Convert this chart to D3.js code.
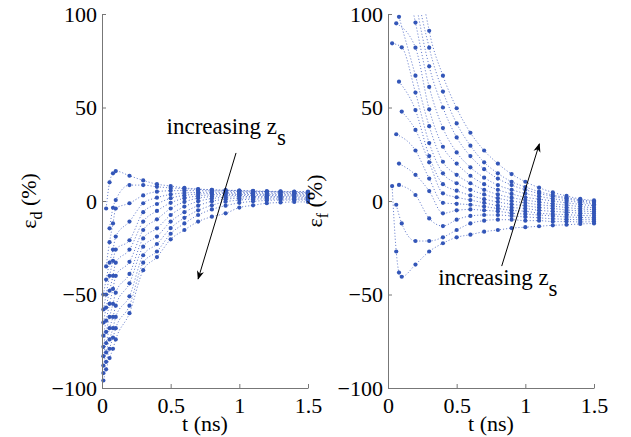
<!DOCTYPE html>
<html>
<head>
<meta charset="utf-8">
<script src="https://cdn.jsdelivr.net/npm/d3@7"></script>
<style>
  body { margin: 0; background: #fff; }
  svg { display: block; }
</style>
</head>
<body>
<svg id="chart" width="631" height="437"></svg>
<script>
// time samples (ns)
const tMain = [0.1, 0.2, 0.3, 0.4, 0.5, 0.6, 0.7, 0.8, 0.9, 1.0, 1.1, 1.2, 1.3, 1.4, 1.5];
const tEarlyD = [0.01, 0.03, 0.055, 0.08];
const tEarlyF = [0.03, 0.06, 0.08];

// eps_d (%) one row per source depth, top curve = shallowest
const epsD = [
  [null, -4, 10, 14.8, 16, 13.5, 11, 9, 8, 7, 6.4, 6, 5.8, 5.6, 5.4, 5.2, 5.1, 5, 5],
  [null, null, -14.6, -3.6, 0.5, 8.5, 8.5, 7.6, 7, 6.6, 6.2, 5.9, 5.7, 5.5, 5.3, 5.1, 5, 4.9, 4.8],
  [null, -35, -22, -12, -4, -1.2, 3, 5, 5.5, 5.6, 5.5, 5.4, 5.3, 5.2, 5.1, 5, 4.8, 4.6, 4.5],
  [-50, -42, -33, -26, -19, -11, -1.2, 1.8, 3.5, 4.3, 4.6, 4.7, 4.7, 4.6, 4.5, 4.4, 4.3, 4.1, 4],
  [-58, -50, -40, -32, -26, -21, -6, -1.6, 1.5, 3, 3.7, 4, 4.1, 4.1, 4, 3.9, 3.8, 3.7, 3.5],
  [-65, -57, -48, -40, -33, -26, -11, -5.3, -1, 1.5, 2.7, 3.3, 3.5, 3.5, 3.5, 3.4, 3.3, 3.2, 3],
  [-72, -64, -55, -47, -40, -32.5, -15.5, -9.8, -4, -0.5, 1.5, 2.4, 2.8, 3, 3, 2.9, 2.8, 2.7, 2.5],
  [-78, -70, -62, -55, -49, -39, -20, -14.6, -7.5, -3, -0.2, 1.3, 2, 2.3, 2.4, 2.4, 2.3, 2.2, 2],
  [-83, -76, -68, -62, -56, -44, -24.4, -19, -11, -6, -2.5, -0.2, 1, 1.5, 1.7, 1.8, 1.7, 1.6, 1.5],
  [-88, -81, -74, -68, -62, -51, -29, -23, -14.5, -9, -5, -2.3, -0.4, 0.5, 1, 1.1, 1.1, 1, 1],
  [-92, -86, -79, -73, -68, -56, -33, -27, -17.5, -12, -7.5, -4.5, -2.5, -1, -0.2, 0.3, 0.5, 0.5, 0.5],
  [-96, -90, -84, -79, -74, -60, -37, -30, -20.5, -15.5, -11, -8.4, -6.6, -3.5, -2.3, -1.2, -0.8, -0.5, -0.5]
];

// eps_f (%) one row per source depth, top curve = deepest
const epsF = [
  [null, null, null, 250, 140, 91, 67, 49.6, 36.5, 27, 20, 14.4, 10.3, 7.1, 4.6, 2.7, 1.1, 0.3],
  [null, null, null, 200, 120, 82, 58.5, 41.5, 29.6, 20.7, 14.8, 10.3, 7.5, 5, 3.2, 1.8, 0.6, -0.3],
  [null, null, null, 160, 108, 72, 50, 34, 24, 17, 12, 8.5, 6, 4, 2.5, 1.2, 0, -1],
  [null, null, null, 130, 95.4, 61, 39, 26, 18, 12.5, 8.5, 6, 4, 2.5, 1.2, 0.2, -0.8, -1.7],
  [null, 95, null, null, 82, 49, 29, 20, 13.5, 9, 6, 3.8, 2, 1, 0, -1, -1.8, -2.6],
  [null, null, 98.5, null, 67, 40, 21, 14, 9.5, 6, 3.5, 1.8, 0.5, -0.5, -1.5, -2.2, -3, -3.6],
  [84.3, null, null, 82.2, 58, 31, 14.8, 9.5, 6, 3.5, 1.5, 0, -1, -2, -2.7, -3.5, -4.2, -4.6],
  [null, null, 63.8, null, 48.6, 24, 9, 5.5, 3, 1, -0.5, -1.8, -2.5, -3.5, -4, -4.8, -5.3, -5.7],
  [null, null, null, 47.8, 38, 20.7, 4.1, 2, 0.5, -1, -2.5, -3.5, -4, -5, -5.5, -6, -6.5, -6.8],
  [null, 35.7, null, null, 27, 12, -1, -1.5, -2, -3, -4, -5, -5.5, -6.5, -7, -7.3, -7.7, -7.9],
  [null, null, 20, null, 14, 5.3, -6.6, -5, -4.5, -5, -5.5, -6.5, -7, -7.5, -8, -8.5, -8.8, -9],
  [null, null, 8.6, null, 3.2, -9.3, -13.4, -10, -8, -7.5, -7.5, -8, -8.5, -9, -9.5, -9.8, -10, -10],
  [null, -2, null, -12, -21.4, -21.4, -19.4, -15.5, -12, -10.5, -10, -10, -10.5, -10.5, -11, -11, -11.2, -11],
  [8, -27, -38.3, -40.5, -34, -27, -22.6, -19.4, -18, -16.4, -15.5, -14.5, -14, -13.5, -13, -12.7, -12.3, -12]
];

const xTicks = [0, 0.5, 1, 1.5];
const yTicks = [-100, -50, 0, 50, 100];

// annotation arrows [from, to] and label anchors, in data units
const arrowD = [[0.976, 25.7], [0.70, -41.7]];
const labelD = [0.47, 36];
const arrowF = [[0.828, -34.8], [1.102, 30.5]];
const labelF = [0.365, -45];

const font = '"Liberation Serif", "Times New Roman", serif';
const blue = '#3356b8';
const svg = d3.select('#chart');

const defs = svg.append('defs');
defs.append('marker')
  .attr('id', 'head')
  .attr('viewBox', '0 0 10 10')
  .attr('refX', 9).attr('refY', 5)
  .attr('markerWidth', 9).attr('markerHeight', 9)
  .attr('markerUnits', 'userSpaceOnUse')
  .attr('orient', 'auto')
  .append('path')
  .attr('d', 'M0,1 L10,5 L0,9 L3,5 Z')
  .attr('fill', '#000');

function drawPanel({ id, x0, times, curves, sub, arrow, label }) {
  const x = d3.scaleLinear().domain([0, 1.5]).range([x0, x0 + 206]);
  const y = d3.scaleLinear().domain([-100, 100]).range([388, 14]);

  defs.append('clipPath').attr('id', 'clip-' + id)
    .append('rect')
    .attr('x', x0).attr('y', 14)
    .attr('width', 206).attr('height', 374);
  defs.append('clipPath').attr('id', 'clipdot-' + id)
    .append('rect')
    .attr('x', x0 - 3).attr('y', 11)
    .attr('width', 212).attr('height', 380);

  const series = curves.map((row) =>
    row.map((v, i) => [times[i], v]).filter((d) => d[1] !== null));

  const line = d3.line()
    .x((d) => x(d[0]))
    .y((d) => y(d[1]))
    .curve(d3.curveMonotoneX);

  svg.append('g')
    .attr('clip-path', `url(#clip-${id})`)
    .selectAll('path')
    .data(series)
    .join('path')
    .attr('d', line)
    .attr('fill', 'none')
    .attr('stroke', '#5a74c8')
    .attr('stroke-width', 0.9)
    .attr('stroke-dasharray', '1.1 2');

  svg.append('g')
    .attr('clip-path', `url(#clipdot-${id})`)
    .selectAll('g')
    .data(series)
    .join('g')
    .selectAll('circle')
    .data((d) => d.filter((p) => p[1] <= 101 && p[1] >= -101))
    .join('circle')
    .attr('cx', (d) => x(d[0]))
    .attr('cy', (d) => y(d[1]))
    .attr('r', 2.1)
    .attr('fill', blue);

  // axes, MATLAB style: ticks point inward, no box
  const ax = svg.append('g')
    .attr('transform', 'translate(0,388)')
    .call(d3.axisBottom(x).tickValues(xTicks).tickFormat((d) => String(d))
      .tickSizeInner(-4).tickSizeOuter(0).tickPadding(9));
  const ay = svg.append('g')
    .attr('transform', `translate(${x0},0)`)
    .call(d3.axisLeft(y).tickValues(yTicks)
      .tickSizeInner(-4).tickSizeOuter(0).tickPadding(5));
  [ax, ay].forEach((g) => {
    g.select('.domain').attr('stroke', '#777');
    g.selectAll('.tick line').attr('stroke', '#777');
    g.selectAll('.tick text')
      .attr('font-family', font).attr('font-size', 22).attr('fill', '#000');
  });

  svg.append('text')
    .attr('x', x0 + 103).attr('y', 431)
    .attr('text-anchor', 'middle')
    .attr('font-family', font).attr('font-size', 22)
    .text('t (ns)');

  const yl = svg.append('text')
    .attr('transform', `translate(${x0 - 66},201) rotate(-90)`)
    .attr('text-anchor', 'middle')
    .attr('font-family', font).attr('font-size', 22);
  yl.append('tspan').text('ε');
  yl.append('tspan').attr('dy', 6).attr('font-size', 16).text(sub);
  yl.append('tspan').attr('dy', -6).text(' (%)');

  svg.append('line')
    .attr('x1', x(arrow[0][0])).attr('y1', y(arrow[0][1]))
    .attr('x2', x(arrow[1][0])).attr('y2', y(arrow[1][1]))
    .attr('stroke', '#000').attr('stroke-width', 1)
    .attr('marker-end', 'url(#head)');

  const lt = svg.append('text')
    .attr('x', x(label[0])).attr('y', y(label[1]))
    .attr('font-family', font).attr('font-size', 23);
  lt.append('tspan').text('increasing z');
  lt.append('tspan').attr('dy', 11).text('s');
}

drawPanel({ id: 'd', x0: 102, times: tEarlyD.concat(tMain), curves: epsD,
  sub: 'd', arrow: arrowD, label: labelD });
drawPanel({ id: 'f', x0: 388, times: tEarlyF.concat(tMain), curves: epsF,
  sub: 'f', arrow: arrowF, label: labelF });
</script>
</body>
</html>
